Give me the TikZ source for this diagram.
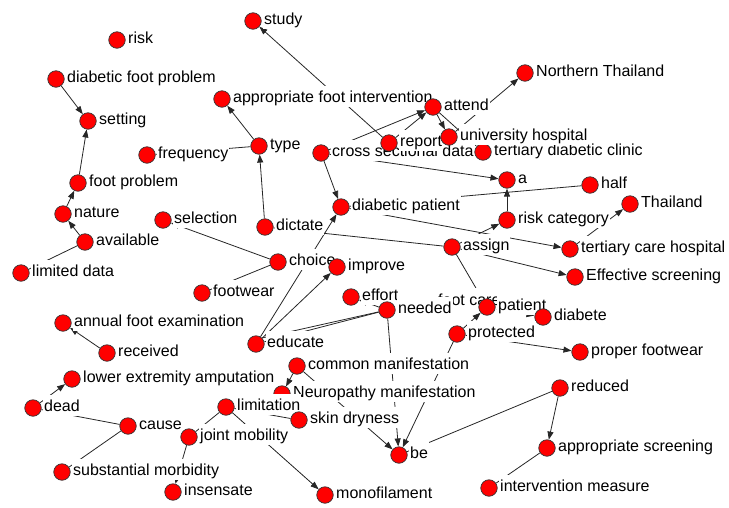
\documentclass[tikz,border=0pt]{standalone}
\usepackage{fontspec}
\setmainfont{Liberation Sans}
\usetikzlibrary{arrows.meta,backgrounds}
% a vertex: red disc plus its caption to the right
\newcommand\placevertex[4]{%
  \node[vtx] (#1) at (#2,#3) {};
  \node[lbl] (#1-l) at ([xshift=10pt,yshift=-3.5pt]#1.center) {#4};}
\begin{document}
\begin{tikzpicture}[x=1pt,y=-1pt,
  vtx/.style={circle, fill=red, draw=black!80, line width=0.7pt, minimum size=16.5pt, inner sep=0pt},
  lbl/.style={anchor=base west, fill=white, inner xsep=1pt, inner ysep=0pt,
              text height=17pt, text depth=4pt, font=\fontsize{16}{18}\selectfont},
  link/.style={draw=black!85, line width=0.8pt},
  arc/.style={link, -{Triangle[length=8pt,width=6pt]}}]
\useasboundingbox (0,0) rectangle (729,507);

% vertices, in drawing order
\placevertex{risk}{117}{40}{risk}
\placevertex{dfp}{56}{79}{diabetic foot problem}
\placevertex{setting}{88}{121}{setting}
\placevertex{study}{253}{21}{study}
\placevertex{api}{222}{99}{appropriate foot intervention}
\placevertex{type}{259}{146}{type}
\placevertex{frequency}{147}{155}{frequency}
\placevertex{csd}{321}{153}{cross sectional data}
\placevertex{report}{389}{143}{report}
\placevertex{tdc}{483}{152}{tertiary diabetic clinic}
\placevertex{univ}{449}{137}{university hospital}
\placevertex{attend}{433}{107}{attend}
\placevertex{northern}{525}{73}{Northern Thailand}
\placevertex{a}{507}{180}{a}
\placevertex{half}{590}{185}{half}
\placevertex{thailand}{630}{204}{Thailand}
\placevertex{dp}{341}{207}{diabetic patient}
\placevertex{riskcat}{507}{220}{risk category}
\placevertex{assign}{452}{247}{assign}
\placevertex{tch}{570}{249}{tertiary care hospital}
\placevertex{effective}{575}{277}{Effective screening}
\placevertex{footproblem}{78}{183}{foot problem}
\placevertex{nature}{63}{214}{nature}
\placevertex{available}{85}{242}{available}
\placevertex{limiteddata}{21}{273}{limited data}
\placevertex{selection}{163}{220}{selection}
\placevertex{dictate}{265}{227}{dictate}
\placevertex{choice}{278}{262}{choice}
\placevertex{improve}{337}{267}{improve}
\placevertex{footwear}{202}{293}{footwear}
\placevertex{effort}{351}{297}{effort}
\node[lbl] (footcare) at (437,305) {foot care};
\placevertex{needed}{387}{310}{needed}
\placevertex{patient}{487}{307}{patient}
\placevertex{diabete}{543}{317}{diabete}
\placevertex{protected}{457}{334}{protected}
\placevertex{pf}{580}{352}{proper footwear}
\placevertex{afe}{63}{323}{annual foot examination}
\placevertex{received}{107}{353}{received}
\placevertex{educate}{256}{344}{educate}
\placevertex{cm}{297}{366}{common manifestation}
\placevertex{lea}{72}{379}{lower extremity amputation}
\placevertex{nm}{282}{394}{Neuropathy manifestation}
\placevertex{limitation}{226}{407}{limitation}
\placevertex{dead}{33}{408}{dead}
\placevertex{skindryness}{299}{420}{skin dryness}
\placevertex{cause}{128}{426}{cause}
\placevertex{jm}{189}{437}{joint mobility}
\placevertex{be}{399}{455}{be}
\placevertex{reduced}{560}{388}{reduced}
\placevertex{as}{547}{448}{appropriate screening}
\placevertex{sm}{62}{472}{substantial morbidity}
\placevertex{insensate}{173}{492}{insensate}
\placevertex{monofilament}{325}{495}{monofilament}
\placevertex{im}{489}{488}{intervention measure}

% connectors, beneath the vertices and captions
\begin{pgfonlayer}{background}
\draw[arc] (dfp) -- (setting);
\draw[arc] (footproblem) -- (setting);
\draw[arc] (nature) -- (footproblem);
\draw[arc] (available) -- (nature);
\draw[link] (available) -- (limiteddata);
\draw[arc] (type) -- (api);
\draw[link] (frequency) -- (type);
\draw[arc] (dictate) -- (type);
\draw[arc] (report) -- (study);
\draw[arc] (report) -- (attend);
\draw[arc] (csd) -- (attend);
\draw[arc] (attend) -- (univ);
\draw[arc] (attend) -- (tdc);
\draw[arc] (univ) -- (northern);
\draw[arc] (csd) -- (dp);
\draw[arc] (csd) -- (a);
\draw[link] (half) -- (dp);
\draw[arc] (riskcat) -- (a);
\draw[arc] (assign) -- (riskcat);
\draw[arc] (dp) -- (tch);
\draw[link] (dictate) -- (assign);
\draw[arc] (assign) -- (effective);
\draw[link] (assign) -- (patient);
\draw[arc] (tch) -- (thailand);
\draw[arc] (choice) -- (selection);
\draw[link] (choice) -- (footwear);
\draw[arc] (educate) -- (dp);
\draw[arc] (educate) -- (improve);
\draw[link] (needed) -- (educate);
\draw[link] (needed) -- (educate.north east);
\draw[arc] (needed) -- (effort);
\draw[arc] (needed) -- (be);
\draw[arc] (protected) -- (be);
\draw[arc] (cm) -- (be);
\draw[arc] (cm) -- (nm);
\draw[link] (reduced) -- (be);
\draw[arc] (reduced) -- (as);
\draw[link] (im) -- (as);
\draw[link] (limitation) -- (skindryness);
\draw[link] (jm) -- (limitation);
\draw[arc] (limitation) -- (monofilament);
\draw[arc] (jm) -- (insensate);
\draw[link] (cause) -- (dead);
\draw[link] (cause) -- (sm);
\draw[arc] (dead) -- (lea);
\draw[arc] (received) -- (afe);
\draw[arc] (patient) -- (diabete);
\draw[arc] (protected) -- (pf);
\draw[arc] (protected) -- (patient);
\end{pgfonlayer}
\end{tikzpicture}
\end{document}
